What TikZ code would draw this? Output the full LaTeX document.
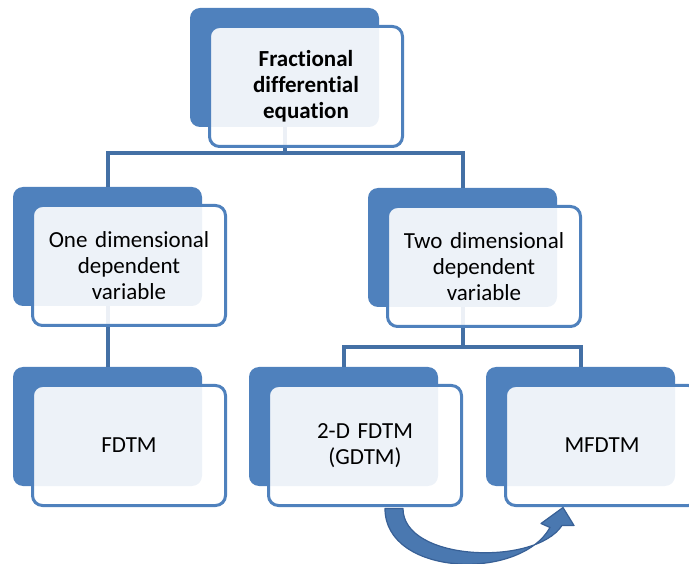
\documentclass[tikz,border=0pt]{standalone}
\usepackage{fontspec}
\setmainfont{Carlito}[Ligatures={NoCommon,NoRare}, WordSpace=0.8]
\usetikzlibrary{calc}
\definecolor{accent}{RGB}{79,129,189}
\definecolor{linkblue}{RGB}{68,112,165}
\definecolor{arrowfill}{RGB}{74,120,176}
\definecolor{arrowedge}{RGB}{56,96,150}
\tikzset{
  backbox/.style={draw=none, fill=accent, rounded corners=10pt,
    minimum width=189pt, minimum height=119pt, inner sep=0pt},
  frontbox/.style={draw=accent, line width=3pt, fill=white, fill opacity=0.9,
    text opacity=1, rounded corners=10pt, minimum width=193pt,
    minimum height=120pt, inner sep=0pt, text width=185pt, align=center,
    font=\fontsize{23}{26}\selectfont},
  conn/.style={draw=linkblue, line width=4pt},
  blockarrow/.style={fill=arrowfill, draw=arrowedge, line width=1.2pt, line join=round}
}
% back plate of a box, given by its top-left corner
\newcommand{\backplate}[3]{\node[backbox] (#1) at (#2+94.5,#3+59.5) {};}
% front card of a box, offset from the back plate
\newcommand{\frontcard}[4]{\node[frontbox] (#1) at (#2+116,#3+78.5) {#4};}
\begin{document}
\begin{tikzpicture}[x=1pt,y=-1pt]
\useasboundingbox (0,0) rectangle (689,564);
\clip (0,0) rectangle (689,564);

% back plates
\backplate{rootb}{190}{8}
\backplate{oneb}{13}{187}
\backplate{twob}{368}{188}
\backplate{fdtmb}{13}{367}
\backplate{gdtmb}{249}{367}
\backplate{mfdtmb}{486}{367}

% tree connectors
\draw[conn] (rootb.south) -- ++(0,26) -| (oneb.north);
\draw[conn] (rootb.south) -- ++(0,26) -| (twob.north);
\draw[conn] (oneb.south) -- (fdtmb.north);
\draw[conn] (twob.south) -- ++(0,40) -| (gdtmb.north);
\draw[conn] (twob.south) -- ++(0,40) -| (mfdtmb.north);

% front cards with labels
\frontcard{root}{190}{8}{\textbf{Fractional\\differential\\equation}}
\frontcard{one}{13}{187}{One dimensional\\dependent\\variable}
\frontcard{two}{368}{188}{Two dimensional\\dependent\\variable}
\frontcard{fdtm}{13}{367}{FDTM}
\frontcard{gdtm}{249}{367}{2-D FDTM\\(GDTM)}
\frontcard{mfdtm}{486}{367}{MFDTM}

% curved block arrow from 2-D FDTM to MFDTM
\filldraw[blockarrow]
  ($(gdtm.south)+(20,1.5)$)
    .. controls ($(gdtm.south)+(20,69.5)$) and ($(mfdtm.south)+(-82,74.5)$)
    .. ($(mfdtm.south)+(-52,20.5)$)
  -- ($(mfdtm.south)+(-61,16.5)$)
  -- ($(mfdtm.south)+(-39,0.5)$)
  -- ($(mfdtm.south)+(-28,18.5)$)
  -- ($(mfdtm.south)+(-40,18.5)$)
    .. controls ($(mfdtm.south)+(-67,59.5)$) and ($(gdtm.south)+(38,54.5)$)
    .. ($(gdtm.south)+(38,1.5)$)
  -- cycle;
\end{tikzpicture}
\end{document}
